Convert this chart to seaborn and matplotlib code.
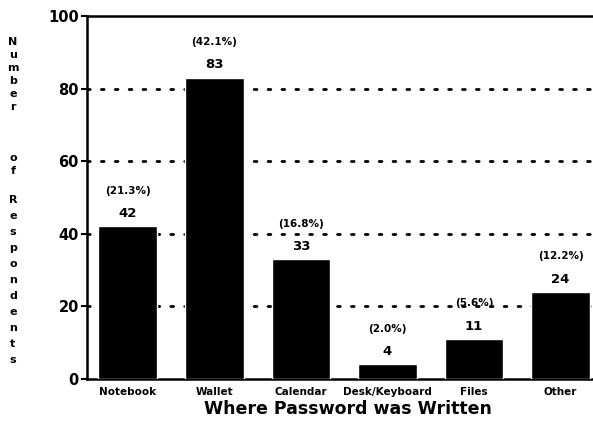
import matplotlib
matplotlib.use("Agg")
import matplotlib.pyplot as plt
import seaborn as sns
import pandas as pd

categories = ["Notebook", "Wallet", "Calendar", "Desk/Keyboard", "Files", "Other"]
counts = [42, 83, 33, 4, 11, 24]
percents = ["(21.3%)", "(42.1%)", "(16.8%)", "(2.0%)", "(5.6%)", "(12.2%)"]
yticks = [0, 20, 40, 60, 80, 100]

sns.set_theme(style="white")
plt.rcParams['font.family'] = ['DejaVu Sans']
plt.rcParams.update({"text.color": "black", "axes.labelcolor": "black",
                     "xtick.color": "black", "ytick.color": "black"})

df = pd.DataFrame({"Location": categories, "Count": counts})

fig = plt.figure(figsize=(5.93, 4.32), dpi=100)
ax = fig.add_axes([0.147, 0.123, 0.88, 0.840])

sns.barplot(data=df, x="Location", y="Count", color="black", width=0.68,
            saturation=1, ax=ax, zorder=3)

ax.set_xlim(-0.47, 5.56)
ax.set_ylim(0, 100)
ax.set_yticks(yticks)
ax.set_yticklabels([str(t) for t in yticks], fontsize=10.5, fontweight="bold", color="black")
ax.set_xticks(range(len(categories)))
ax.set_xticklabels(categories, fontsize=7.5, fontweight="bold", color="black")
ax.tick_params(axis="y", direction="out", length=4, width=1.5, color="black", pad=2, left=True)
ax.tick_params(axis="x", length=0, pad=6)

for yv in yticks[1:-1]:
    ax.axhline(yv, color="black", linewidth=2, linestyle=(0, (1, 4)),
               dash_capstyle="round", zorder=1)

for s in ["top", "left", "bottom"]:
    ax.spines[s].set_visible(True)
    ax.spines[s].set_color("black")
    ax.spines[s].set_linewidth(1.8)
ax.spines["right"].set_visible(False)

for i, (c, p) in enumerate(zip(counts, percents)):
    ax.text(i, c + 3.5, str(c), ha="center", va="center", fontsize=9.5,
            fontweight="bold", color="black", zorder=4)
    ax.text(i, c + 9.8, p, ha="center", va="center", fontsize=7.5,
            fontweight="bold", color="black", zorder=4)

ax.set_xlabel("Where Password was Written", fontsize=12.5, fontweight="bold",
              labelpad=2, color="black")
ax.set_ylabel("")

# stacked vertical y label
H = 432.0
def put(letter, ypix):
    fig.text(13 / 593.0, 1 - ypix / H, letter, ha="center", va="center",
             fontsize=8, fontweight="bold", color="black")

for k, ch in enumerate("Number"):
    put(ch, 42 + k * 13)
for k, ch in enumerate("of"):
    put(ch, 158 + k * 13)
for k, ch in enumerate("Respondents"):
    put(ch, 200 + k * 16)

fig.savefig("out.png", dpi=100)
